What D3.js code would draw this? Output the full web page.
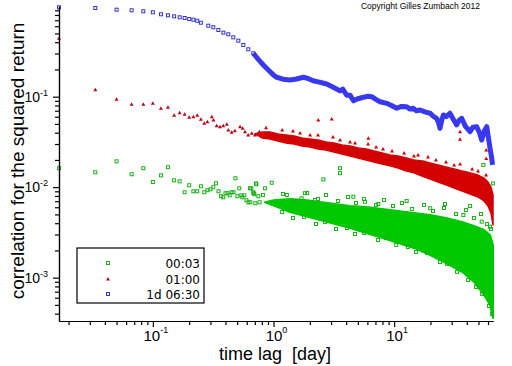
<!DOCTYPE html>
<html><head><meta charset="utf-8">
<script src="https://cdn.jsdelivr.net/npm/d3@7"></script>
<style>body{margin:0;background:#fff}svg{display:block}</style>
</head><body><div id="chart"></div>
<script>
// ---------- data ----------
// 1d 06:30 series (blue)
const blueT = [0.01667,0.03333,0.05,0.06667,0.08333,0.1,0.1167,0.1333,0.15,0.1667,0.1833,0.2,0.2167,0.2333,
  0.25,0.288,0.317,0.349,0.384,0.422,0.464,0.511,0.562,0.618,0.68,0.748,0.824,0.906,0.998,1.06,1.2,1.37,1.55,1.77,1.95,2.13,2.4,2.76,3.1,3.56,3.75,4.04,4.31,4.6,5.0,5.56,6.1,6.52,7.0,7.64,8.68,9.5,10.5,11.5,12.7,13.5,14.4,15.3,16.4,18,19.9,21,22.5,23.3,24.0,24.8,25.6,27,29,31,33,34.6,36.3,39,42.6,45,48.4,51,53.2,56,58.6,60.5,62.4,64,65.5];
const blueV = [0.972,0.955,0.915,0.901,0.878,0.856,0.814,0.793,0.773,0.754,0.741,0.722,0.709,0.691,
  0.657,0.609,0.585,0.546,0.51,0.489,0.453,0.416,0.373,0.334,0.302,0.259,0.224,0.197,0.174,0.164,0.156,0.153,0.157,0.164,0.158,0.15,0.145,0.138,0.128,0.116,0.121,0.104,0.104,0.09,0.095,0.0985,0.101,0.1,0.094,0.088,0.0845,0.08,0.0745,0.078,0.0776,0.073,0.0745,0.07,0.0713,0.068,0.0656,0.061,0.0577,0.052,0.0448,0.055,0.0628,0.06,0.0656,0.056,0.0487,0.055,0.0577,0.047,0.041,0.046,0.0466,0.04,0.0332,0.042,0.0466,0.035,0.0269,0.022,0.0176];

// 01:00 series (red): individual points, dense band, and points sticking out of the band
const redT = [0.01667,0.03333,0.05,0.06667,0.08333,0.1,0.1167,0.1333,0.15,0.1667,0.1833,0.2,0.2167,0.2333,
  0.25,0.2667,0.2833,0.3083,0.318,0.338,0.36,0.383,0.41,0.422,0.45,0.478,0.528,0.555,0.58,0.617,0.66,0.703,0.763];
const redV = [0.442,0.119,0.0936,0.0824,0.0824,0.0845,0.0745,0.0764,0.0623,0.0665,0.064,0.0592,0.06,0.0623,
  0.0563,0.0508,0.0529,0.0601,0.0553,0.0478,0.0466,0.0478,0.0495,0.0429,0.0404,0.0421,0.0466,0.0448,0.041,0.0377,0.0394,0.0377,0.041];
const redBandT  = [0.7,0.804,0.935,1.09,1.27,1.48,1.72,2.01,2.34,2.72,3.17,3.70,4.31,5.02,5.85,6.81,7.94,9.25,10.8,12.6,14.6,17.0,19.9,23.1,26.9,31.4,36.6,42.6,49.6,55.6,60.0,63.5,66.0];
const redBandHi = [0.039,0.0407,0.0407,0.0387,0.0377,0.0368,0.035,0.0341,0.0332,0.0316,0.0308,0.0293,0.0285,0.0271,0.0264,0.0251,0.0239,0.0227,0.0221,0.021,0.02,0.0195,0.0185,0.0176,0.0167,0.0159,0.0151,0.0144,0.0136,0.0126,0.0114,0.01,0.0082];
const redBandLo = [0.039,0.035,0.0341,0.0324,0.0308,0.03,0.0285,0.0278,0.0264,0.0258,0.0245,0.0233,0.0221,0.021,0.02,0.019,0.018,0.0172,0.0163,0.0151,0.0144,0.0133,0.0123,0.0114,0.0106,0.00979,0.00908,0.00841,0.0078,0.00704,0.0062,0.00519,0.00382];
const redSpikeT = [0.867,1.18,1.45,1.66,2.01,2.34,3.11,3.56,4.31,4.74,6.08,7.08,8.09,9.61,12.1,14.6,15.8,19.1,22.2,26.9,31.4,35.2,44.3,49.6,57.8,
  2.35,3.04,6.11,35.2,35.2,58,58];
const redSpikeV = [0.0453,0.0429,0.0418,0.0397,0.0377,0.0377,0.0359,0.0332,0.0316,0.0308,0.03,0.0278,0.0264,0.0251,0.0239,0.0221,0.0227,0.0216,0.02,0.019,0.0176,0.018,0.0159,0.0151,0.0136,
  0.0552,0.0567,0.0347,0.041,0.0338,0.0258,0.0208];

// 00:03 series (green): individual points, dense cloud, scattered points
const greenT = [0.01667,0.03333,0.05,0.06667,0.08333,0.1,0.1167,0.1333,0.15,0.1667,0.1833,0.2,0.2167,0.2333,
  0.25,0.2667,0.2833,0.3,0.3167,0.3333,0.35,0.3667,0.3833,0.4,0.4167,0.4333,0.45,0.4667,0.4833,0.5017,0.52,0.541,0.552,0.573,0.596,0.619,0.643,0.655,0.68,0.693,0.721,0.707,0.749,0.766,
  0.716,0.966,0.638,0.851,0.685,0.817,2.59,3.56,3.56,1.82,1.29,1.71,2.21,4.59,5.74,7.4,12.7,17.5,19.9,26.4,37.5,54.9,65.9,42.6,53.2,62.4,
  1.20,1.54,1.90,2.34,2.72,3.43,4.15,4.83,5.62,7.08,8.24,9.79,11.6,14.1,17.7,21.0,25.9,32.6,39.4,45.9,52.5,58.9,63.5,
  1.18,1.45,1.79,2.25,2.67,3.30,4.07,4.74,5.62,7.36,8.57,10.4,13.0,15.2,18.7,24.0,27.5,33.2,41.0,47.7,53.6,61.2,64.9];
const greenV = [0.0162,0.0146,0.0193,0.0139,0.0162,0.0114,0.0135,0.0166,0.0119,0.0116,0.00879,0.0105,0.00901,0.00901,
  0.01023,0.00879,0.00925,0.00948,0.00998,0.01104,0.00901,0.00794,0.00773,0.00857,0.00857,0.00813,0.00879,0.00879,0.01254,0.00794,0.00972,0.00813,0.00773,0.00813,0.00717,0.00681,0.00681,0.00972,0.00879,0.00837,0.01076,0.00664,0.00794,0.00681,
  0.011,0.0112,0.00972,0.00972,0.00857,0.0082,0.0122,0.0162,0.0143,0.00857,0.0082,0.00754,0.00722,0.00785,0.00691,0.00652,0.00704,0.0187,0.00585,0.00652,0.00493,0.0176,0.011,0.0062,0.00416,0.00366,
  0.00841,0.00704,0.00863,0.00741,0.0082,0.00704,0.0078,0.00669,0.00741,0.00636,0.00722,0.0062,0.00669,0.00574,0.00636,0.00546,0.00589,0.00505,0.0056,0.00457,0.00505,0.00392,0.00345,
  0.00532,0.00457,0.00469,0.00392,0.00412,0.00345,0.00354,0.00304,0.00312,0.00261,0.00275,0.0023,0.00218,0.00192,0.00188,0.00149,0.00142,0.00116,0.000944,0.000788,0.000661,0.000486,0.000397];
const greenBandT  = [0.85,1.03,1.37,1.82,2.43,3.24,4.31,5.85,7.94,10.8,14.6,19.9,26.9,36.6,45.9,55.6,62.4,66.0];
const greenBandHi = [0.0068,0.00722,0.00741,0.00722,0.00687,0.00652,0.0062,0.00604,0.00574,0.00546,0.00519,0.00493,0.00457,0.00412,0.00372,0.00337,0.00296,0.0023];
const greenBandLo = [0.0068,0.0062,0.00532,0.00481,0.00434,0.00392,0.00354,0.00312,0.00275,0.00242,0.00213,0.00178,0.00145,0.00116,0.000897,0.000644,0.000499,0.000359];

const legendLabels = ["00:03","01:00","1d 06:30"];
const xMajor = [0.1,1,10], xMajorExp = ["-1","0","1"];
const yMajor = [0.001,0.01,0.1], yMajorExp = ["-3","-2","-1"];
const xMinor = [0.02,0.03,0.04,0.05,0.06,0.07,0.08,0.09,0.2,0.3,0.4,0.5,0.6,0.7,0.8,0.9,2,3,4,5,6,7,8,9,20,30,40,50,60];
const yMinor = [4e-4,5e-4,6e-4,7e-4,8e-4,9e-4,2e-3,3e-3,4e-3,5e-3,6e-3,7e-3,8e-3,9e-3,0.02,0.03,0.04,0.05,0.06,0.07,0.08,0.09,0.2,0.3,0.4,0.5,0.6,0.7,0.8,0.9];

// ---------- drawing ----------
const W = 512, H = 366;
const GREEN = "#00c800", GREEN_S = "#18b018", RED = "#d20000", RED_S = "#b40818", BLUE = "#3838ee", BLUE_S = "#3434c8";
const svg = d3.select("#chart").append("svg").attr("width", W).attr("height", H)
  .style("font-family", "'Liberation Sans', Arial, sans-serif");

const x = d3.scaleLog().domain([1/60, 66]).range([59, 493]);
const y = d3.scaleLog().domain([3.32e-4, 1]).range([321, 6.2]);

const zip = (a, b) => a.map((v, i) => [v, b[i]]);
const sq = (g, pts, color, s) => g.selectAll(null).data(pts).enter().append("rect")
  .attr("x", d => x(d[0]) - s/2).attr("y", d => y(d[1]) - s/2).attr("width", s).attr("height", s)
  .attr("fill", "none").attr("stroke", color).attr("stroke-width", 1);
const tri = (g, pts, color) => g.selectAll(null).data(pts).enter().append("path")
  .attr("d", d => { const px = x(d[0]), py = y(d[1]); return `M${px-2},${py+1.5}L${px+2},${py+1.5}L${px},${py-2}Z`; })
  .attr("fill", color);
const areaBand = (T, hi, lo) => d3.area().x((d, i) => x(T[i])).y0((d, i) => y(lo[i])).y1((d, i) => y(hi[i])).curve(d3.curveLinear)(T);

// green
const gG = svg.append("g");
gG.append("path").attr("d", areaBand(greenBandT, greenBandHi, greenBandLo)).attr("fill", GREEN)
  .attr("stroke", GREEN).attr("stroke-width", 2).attr("stroke-linejoin", "round");
sq(gG, zip(greenT, greenV), GREEN_S, 3);

// red
const gR = svg.append("g");
gR.append("path").attr("d", areaBand(redBandT, redBandHi, redBandLo)).attr("fill", RED)
  .attr("stroke", RED).attr("stroke-width", 1.5).attr("stroke-linejoin", "round");
tri(gR, zip(redT, redV), RED_S);
tri(gR, zip(redSpikeT, redSpikeV), RED);

// blue
const gB = svg.append("g");
const bluePts = zip(blueT, blueV);
gB.append("path").attr("d", d3.line().x(d => x(d[0])).y(d => y(d[1]))(bluePts.filter(d => d[0] >= 0.68)))
  .attr("fill", "none").attr("stroke", BLUE).attr("stroke-width", 5).attr("stroke-linejoin", "round");
sq(gB, bluePts.filter(d => d[0] < 0.7), BLUE_S, 3);

// axes
const ax = svg.append("g");
ax.append("g").attr("transform", "translate(0,321)")
  .call(d3.axisBottom(x).tickValues(xMinor).tickSize(4).tickSizeOuter(0).tickFormat(""));
ax.append("g").attr("transform", "translate(0,321)")
  .call(d3.axisBottom(x).tickValues(xMajor).tickSize(6).tickSizeOuter(0).tickFormat(""));
ax.append("g").attr("transform", "translate(59,0)")
  .call(d3.axisLeft(y).tickValues(yMinor).tickSize(4).tickSizeOuter(0).tickFormat(""));
ax.append("g").attr("transform", "translate(59,0)")
  .call(d3.axisLeft(y).tickValues(yMajor).tickSize(6).tickSizeOuter(0).tickFormat(""));
ax.selectAll("path.domain, line").attr("stroke", "#000").attr("stroke-width", 1.2);

xMajor.forEach((v, i) => {
  const t = svg.append("text").attr("x", x(v) + 3).attr("y", 340.5).attr("text-anchor", "middle")
    .attr("font-size", 15).attr("fill", "#000").text("10");
  t.append("tspan").attr("dy", -8).attr("font-size", 9).text(xMajorExp[i]);
});
yMajor.forEach((v, i) => {
  const t = svg.append("text").attr("x", 48).attr("y", y(v) + 5).attr("text-anchor", "end")
    .attr("font-size", 14).attr("fill", "#000").text("10");
  t.append("tspan").attr("dy", -6).attr("font-size", 9).text(yMajorExp[i]);
});

svg.append("text").attr("x", 275).attr("y", 360).attr("text-anchor", "middle").attr("font-size", 18)
  .style("white-space", "pre").text("time lag  [day]");
svg.append("text").attr("transform", "translate(24,161) rotate(-90)").attr("text-anchor", "middle")
  .attr("font-size", 19).text("correlation for the squared return");
svg.append("text").attr("x", 480).attr("y", 9).attr("text-anchor", "end").attr("font-size", 8.5)
  .text("Copyright Gilles Zumbach 2012");

// legend
const lg = svg.append("g");
lg.append("rect").attr("x", 77).attr("y", 248).attr("width", 127).attr("height", 55)
  .attr("fill", "#fff").attr("stroke", "#000").attr("stroke-width", 1.2);
const legY = [263, 279, 294];
lg.append("rect").attr("x", 106.5).attr("y", legY[0] - 1.5).attr("width", 3).attr("height", 3).attr("fill", "none").attr("stroke", GREEN_S);
lg.append("path").attr("d", `M106,${legY[1]+1.5}L110,${legY[1]+1.5}L108,${legY[1]-2}Z`).attr("fill", RED_S);
lg.append("rect").attr("x", 106.5).attr("y", legY[2] - 1.5).attr("width", 3).attr("height", 3).attr("fill", "none").attr("stroke", BLUE_S);
legendLabels.forEach((l, i) => lg.append("text").attr("x", 200).attr("y", legY[i] + 4.5).attr("text-anchor", "end")
  .attr("font-family", "'DejaVu Sans', sans-serif").attr("font-size", 12).text(l));
</script></body></html>
